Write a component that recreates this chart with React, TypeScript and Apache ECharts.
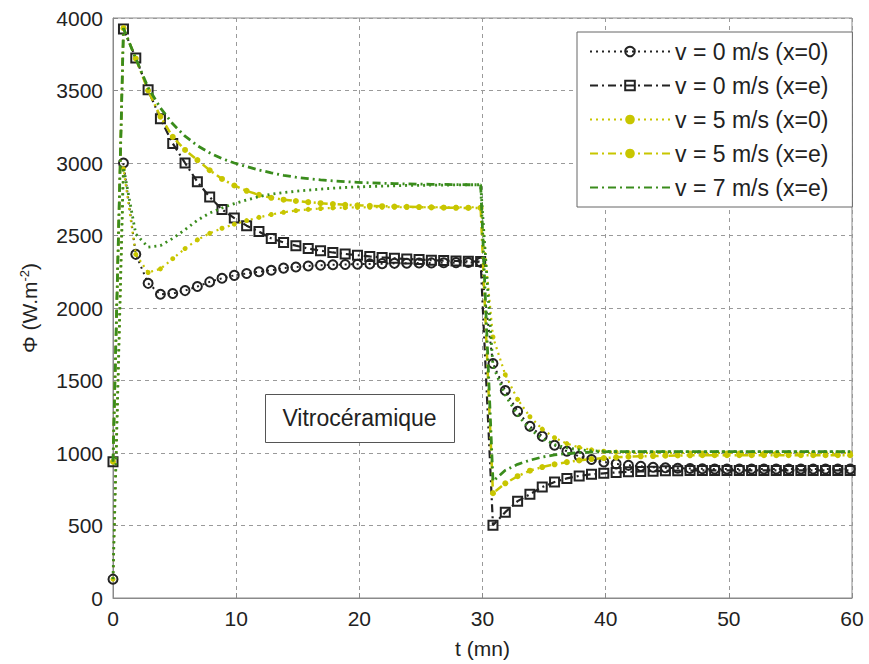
import React, { useEffect, useRef } from "react";
import * as echarts from "echarts";

const times = [
  0, 0.85, 1.85, 2.85, 3.85, 4.85, 5.85, 6.85, 7.85, 8.85, 9.85,
  10.85, 11.85, 12.85, 13.85, 14.85, 15.85, 16.85, 17.85, 18.85, 19.85,
  20.85, 21.85, 22.85, 23.85, 24.85, 25.85, 26.85, 27.85, 28.85, 29.85,
  30.85, 31.85, 32.85, 33.85, 34.85, 35.85, 36.85, 37.85, 38.85, 39.85,
  40.85, 41.85, 42.85, 43.85, 44.85, 45.85, 46.85, 47.85, 48.85, 49.85,
  50.85, 51.85, 52.85, 53.85, 54.85, 55.85, 56.85, 57.85, 58.85, 59.85,
];

const v0x0 = [
  130, 3000, 2370, 2170, 2095, 2100, 2120, 2148, 2180, 2205, 2225,
  2238, 2250, 2260, 2275, 2283, 2290, 2295, 2298, 2300, 2302,
  2304, 2306, 2308, 2309, 2310, 2311, 2312, 2313, 2314, 2315,
  1617, 1431, 1287, 1184, 1115, 1053, 1012, 977, 955, 938,
  925, 915, 908, 902, 898, 895, 893, 891, 890, 890,
  890, 890, 890, 890, 890, 890, 890, 890, 890, 890,
];

const v0xe = [
  940, 3925, 3725, 3505, 3305, 3135, 3000, 2870, 2765, 2680, 2620,
  2568, 2527, 2480, 2452, 2430, 2410, 2395, 2383, 2373, 2364,
  2356, 2349, 2343, 2338, 2334, 2330, 2327, 2324, 2322, 2320,
  502, 592, 668, 715, 765, 800, 825, 842, 853, 860,
  866, 870, 873, 875, 877, 878, 879, 880, 880, 880,
  880, 880, 880, 880, 880, 880, 880, 880, 880, 880,
];

const v5x0 = [
  130, 2960, 2370, 2245, 2270, 2340, 2410, 2470, 2515, 2550, 2578,
  2603, 2625, 2645, 2660, 2672, 2680, 2686, 2690, 2692, 2694,
  2695, 2695, 2695, 2695, 2695, 2695, 2695, 2695, 2695, 2695,
  1800, 1540, 1370, 1250, 1165, 1105, 1065, 1038, 1022, 1012,
  1006, 1002, 1000, 1000, 1000, 1000, 1000, 1000, 1000, 1000,
  1000, 1000, 1000, 1000, 1000, 1000, 1000, 1000, 1000, 1000,
];

const v5xe = [
  940, 3930, 3720, 3500, 3320, 3180, 3090, 3020, 2950, 2890, 2845,
  2808, 2780, 2760, 2747, 2738, 2730, 2723, 2717, 2712, 2708,
  2705, 2702, 2700, 2698, 2696, 2694, 2692, 2691, 2690, 2690,
  723, 791, 840, 878, 903, 922, 937, 949, 958, 965,
  970, 974, 977, 979, 981, 983, 984, 985, 985, 985,
  985, 985, 985, 985, 985, 985, 985, 985, 985, 985,
];

const v7xe = [
  940, 3930, 3720, 3520, 3380, 3270, 3185, 3120, 3070, 3030, 3000,
  2975, 2952, 2932, 2915, 2902, 2892, 2884, 2877, 2871, 2867,
  2863, 2860, 2858, 2856, 2854, 2853, 2852, 2851, 2850, 2850,
  805, 881, 922, 950, 972, 987, 996, 1002, 1006, 1008,
  1010, 1010, 1010, 1010, 1010, 1010, 1010, 1010, 1010, 1010,
  1010, 1010, 1010, 1010, 1010, 1010, 1010, 1010, 1010, 1010,
];

const v7x0 = [
  130, 2970, 2510, 2420, 2430, 2480, 2540, 2605, 2655, 2690, 2720,
  2745, 2768, 2785, 2796, 2805, 2813, 2820, 2826, 2831, 2835,
  2838, 2841, 2843, 2845, 2846, 2847, 2848, 2849, 2850, 2850,
  1600, 1400, 1262, 1165, 1100, 1058, 1035, 1022, 1015, 1012,
  1010, 1010, 1010, 1010, 1010, 1010, 1010, 1010, 1010, 1010,
  1010, 1010, 1010, 1010, 1010, 1010, 1010, 1010, 1010, 1010,
];

const legendNames = [
  "v = 0 m/s (x=0)",
  "v = 0 m/s (x=e)",
  "v = 5 m/s (x=0)",
  "v = 5 m/s (x=e)",
  "v = 7 m/s (x=e)",
];
const hiddenName = "v = 7 m/s (x=0)";

const xTicks = [0, 10, 20, 30, 40, 50, 60];
const annotation = "Vitrocéramique";

const BLACK = "#232323";
const YELLOW = "#c8c600";
const GREEN = "#3a8c1c";
const FONT = "Liberation Sans, Arial, sans-serif";

const DOT = [2, 4];
const DASHDOT = [8, 4, 2, 4];

function pair(vals: number[]) {
  return times.map((t, i) => [t, vals[i]]);
}

export default function App() {
  const ref = useRef<HTMLDivElement>(null);
  useEffect(() => {
    if (!ref.current) return;
    const chart = echarts.init(ref.current, undefined, { renderer: "svg" });
    const option: any = {
      animation: false,
      backgroundColor: "#ffffff",
      grid: {
        left: 113,
        right: 17,
        top: 18,
        bottom: 64,
        show: true,
        borderColor: "#8a8a8a",
        borderWidth: 1,
        backgroundColor: "transparent",
      },
      xAxis: {
        type: "value",
        min: xTicks[0],
        max: xTicks[xTicks.length - 1],
        interval: 10,
        name: "t (mn)",
        nameLocation: "middle",
        nameGap: 40,
        nameTextStyle: { fontFamily: FONT, fontSize: 21, color: "#222" },
        axisLine: { show: true, lineStyle: { color: "#8a8a8a", width: 1 } },
        axisTick: { show: true, inside: true, length: 5, lineStyle: { color: "#8a8a8a" } },
        axisLabel: { fontFamily: FONT, fontSize: 21, color: "#222", margin: 10 },
        splitLine: { show: true, lineStyle: { color: "#9a9a9a", type: [4, 4], width: 1 } },
      },
      yAxis: {
        type: "value",
        min: 0,
        max: 4000,
        interval: 500,
        name: "{a|Φ (W.m}{s|-2}{a|)}",
        nameLocation: "middle",
        nameRotate: 90,
        nameGap: 72,
        nameTextStyle: {
          fontFamily: FONT,
          color: "#222",
          rich: {
            a: { fontFamily: FONT, fontSize: 21, color: "#222" },
            s: { fontFamily: FONT, fontSize: 13, color: "#222", verticalAlign: "top", padding: [0, 0, 10, 0] },
          },
        },
        axisLine: { show: true, lineStyle: { color: "#8a8a8a", width: 1 } },
        axisTick: { show: true, inside: true, length: 5, lineStyle: { color: "#8a8a8a" } },
        axisLabel: {
          fontFamily: FONT,
          fontSize: 21,
          color: "#222",
          margin: 10,
          formatter: (v: number) => String(v),
        },
        splitLine: { show: true, lineStyle: { color: "#9a9a9a", type: [4, 4], width: 1 } },
      },
      legend: {
        data: [
          { name: legendNames[0] },
          { name: legendNames[1] },
          { name: legendNames[2] },
          { name: legendNames[3] },
          { name: legendNames[4], itemStyle: { color: "transparent", borderWidth: 0, opacity: 0 } },
        ],
        orient: "vertical",
        left: 577,
        top: 32,
        backgroundColor: "#ffffff",
        borderColor: "#666",
        borderWidth: 1,
        borderRadius: 0,
        padding: [8, 24, 8, 12],
        itemWidth: 80,
        itemHeight: 12,
        itemGap: 11,
        textStyle: { fontFamily: FONT, fontSize: 23, color: "#222" },
      },
      graphic: [
        {
          type: "rect",
          left: 265,
          top: 394,
          shape: { width: 189, height: 48 },
          style: { fill: "#ffffff", stroke: "#555", lineWidth: 1 },
          z: 10,
        },
        {
          type: "text",
          x: 359.5,
          y: 418,
          style: {
            text: annotation,
            fontFamily: FONT,
            fontSize: 23,
            fill: "#222",
            textAlign: "center",
            textVerticalAlign: "middle",
          },
          z: 11,
        },
      ],
      series: [
        {
          name: legendNames[0],
          type: "line",
          data: pair(v0x0),
          symbol: "circle",
          symbolSize: 9,
          lineStyle: { color: BLACK, width: 2, type: DOT },
          itemStyle: { color: "transparent", borderColor: BLACK, borderWidth: 2 },
          z: 2,
        },
        {
          name: legendNames[1],
          type: "line",
          data: pair(v0xe),
          symbol: "rect",
          symbolSize: 9,
          lineStyle: { color: BLACK, width: 2.2, type: DASHDOT },
          itemStyle: { color: "transparent", borderColor: BLACK, borderWidth: 2 },
          z: 3,
        },
        {
          name: legendNames[2],
          type: "line",
          data: pair(v5x0),
          symbol: "circle",
          symbolSize: 5,
          lineStyle: { color: YELLOW, width: 2.2, type: DOT },
          itemStyle: { color: YELLOW, borderColor: YELLOW, borderWidth: 0 },
          z: 4,
        },
        {
          name: legendNames[3],
          type: "line",
          data: pair(v5xe),
          symbol: "circle",
          symbolSize: 6,
          lineStyle: { color: YELLOW, width: 2.5, type: DASHDOT },
          itemStyle: { color: YELLOW, borderColor: YELLOW, borderWidth: 0 },
          z: 5,
        },
        {
          name: legendNames[4],
          type: "line",
          data: pair(v7xe),
          symbol: "none",
          lineStyle: { color: GREEN, width: 2.8, type: DASHDOT },
          itemStyle: { color: GREEN },
          z: 6,
        },
        {
          name: hiddenName,
          type: "line",
          data: pair(v7x0),
          symbol: "none",
          lineStyle: { color: GREEN, width: 2.8, type: DOT },
          itemStyle: { color: GREEN },
          z: 6,
        },
      ],
    };
    chart.setOption(option);
    return () => chart.dispose();
  }, []);
  return (
    <div
      ref={ref}
      style={{ width: 869, height: 664, position: "absolute", left: 0, top: 0, background: "#fff" }}
    />
  );
}
